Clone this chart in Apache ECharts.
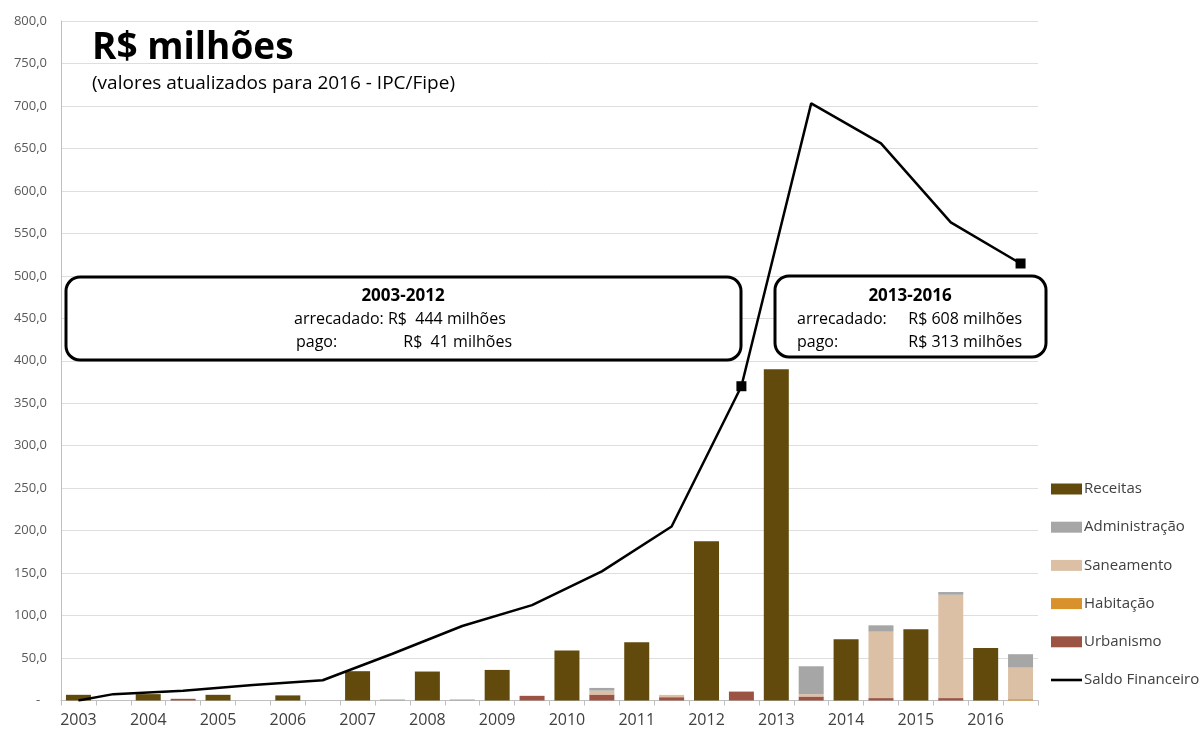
<!DOCTYPE html>
<html>
<head>
<meta charset="utf-8">
<script src="https://cdn.jsdelivr.net/npm/echarts@6/dist/echarts.min.js"></script>
<style>
  html, body { margin: 0; padding: 0; background: #fff; }
  #chart { width: 1203px; height: 734px; }
</style>
</head>
<body>
<div id="chart"></div>
<script>
// valores em R$ milhões
const years = ['2003', '2004', '2005', '2006', '2007', '2008', '2009', '2010', '2011', '2012', '2013', '2014', '2015', '2016'];
const receitas = [6.7, 7.5, 6.7, 6.0, 34.5, 34.1, 36.0, 59.0, 68.7, 187.5, 390.0, 72.0, 83.8, 61.7];
const administracao = [0, 0, 0, 0, 1.2, 1.2, 0, 3.2, 0, 0, 32.8, 7.5, 3.2, 15.8];
const saneamento = [0, 0, 0, 0, 0, 0, 0, 4.6, 2.7, 0, 2.8, 78.2, 121.7, 37.1];
const habitacao = [0, 0, 0, 0, 0, 0, 0, 0, 0, 0, 0, 0, 0, 1.6];
const urbanismo = [0, 2.0, 0, 0, 0, 0, 5.5, 7.0, 3.9, 10.5, 4.7, 2.8, 2.8, 0];
const saldoInicial = 0;
const saldo = [7.5, 11.5, 18.3, 23.8, 55.0, 87.7, 112.3, 152.0, 204.8, 370.0, 703.0, 656.0, 563.0, 514.5];
const markerYears = ['2012', '2016'];
const yTicks = { min: 0, max: 800, interval: 50 };

const FONT = 'Open Sans';

// cada ano tem duas posições: receitas e despesas
const categories = [];
years.forEach(y => { categories.push(y); categories.push(y + ' '); });

function receitaSlots(arr) {
  const out = [];
  arr.forEach(v => { out.push(v); out.push('-'); });
  return out;
}
function despesaSlots(arr) {
  const out = [];
  arr.forEach(v => { out.push('-'); out.push(v > 0 ? v : '-'); });
  return out;
}
function saldoSlots() {
  const out = [saldoInicial];
  years.forEach((y, i) => {
    if (i > 0) out.push('-');
    const item = { value: saldo[i] };
    if (markerYears.indexOf(y) >= 0) {
      item.symbol = 'rect';
      item.symbolSize = 10;
    }
    out.push(item);
  });
  return out;
}

const chart = echarts.init(document.getElementById('chart'));

const barBase = { type: 'bar', stack: 'total', barWidth: 25 };

function boxText(x, y, text, align, bold, size) {
  return {
    type: 'text', z: 51, x: x, y: y,
    style: {
      text: text,
      font: (bold ? 'bold ' : '') + size + 'px "Open Sans"',
      fill: '#000', align: align, verticalAlign: 'middle'
    }
  };
}

const option = {
  backgroundColor: '#fff',
  animation: false,
  textStyle: { fontFamily: FONT },
  grid: { left: 61, right: 165, top: 21, bottom: 33.5 },
  legend: {
    orient: 'vertical',
    left: 1051,
    top: 481,
    padding: 0,
    itemWidth: 31,
    itemHeight: 11,
    itemGap: 22.2,
    textStyle: { fontFamily: FONT, fontSize: 15, color: '#404040', lineHeight: 16, padding: [0, 0, 0, -3] },
    data: [
      { name: 'Receitas', icon: 'rect' },
      { name: 'Administração', icon: 'rect' },
      { name: 'Saneamento', icon: 'rect' },
      { name: 'Habitação', icon: 'rect' },
      { name: 'Urbanismo', icon: 'rect' },
      { name: 'Saldo Financeiro', icon: 'path://M0,0H31V2.6H0Z' }
    ]
  },
  xAxis: {
    type: 'category',
    data: categories,
    axisLine: { lineStyle: { color: '#bfbfbf', width: 1 } },
    axisTick: { show: true, interval: 0, length: 5, lineStyle: { color: '#bfbfbf' } },
    axisLabel: {
      interval: 0,
      margin: 12,
      fontFamily: FONT,
      fontSize: 16,
      color: '#404040',
      formatter: (v, i) => (i % 2 === 0 ? v : '')
    }
  },
  yAxis: {
    type: 'value',
    min: yTicks.min,
    max: yTicks.max,
    interval: yTicks.interval,
    axisLine: { show: true, lineStyle: { color: '#bfbfbf' } },
    axisTick: { show: false },
    splitLine: { lineStyle: { color: '#dedede' } },
    axisLabel: {
      margin: 14,
      fontFamily: FONT,
      fontSize: 13,
      color: '#595959',
      formatter: v => (v === 0 ? '-  ' : v.toFixed(1).replace('.', ','))
    }
  },
  graphic: [
    {
      type: 'text', left: 92, top: 30,
      style: { text: 'R$ milhões', font: 'bold 37px "Open Sans"', fill: '#000' }
    },
    {
      type: 'text', left: 92, top: 74,
      style: { text: '(valores atualizados para 2016 - IPC/Fipe)', font: '19px "Open Sans"', fill: '#000' }
    },
    {
      type: 'rect', z: 50,
      shape: { x: 66, y: 277, width: 675, height: 83, r: 14 },
      style: { fill: '#fff', stroke: '#000', lineWidth: 3 }
    },
    {
      type: 'rect', z: 50,
      shape: { x: 775, y: 276, width: 271, height: 81, r: 14 },
      style: { fill: '#fff', stroke: '#000', lineWidth: 3 }
    },
    boxText(403, 296, '2003-2012', 'center', true, 17),
    boxText(294, 319, 'arrecadado: R$  444 milhões', 'left', false, 16),
    boxText(296, 342, 'pago:', 'left', false, 16),
    boxText(512, 342, 'R$  41 milhões', 'right', false, 16),
    boxText(910, 296, '2013-2016', 'center', true, 17),
    boxText(797, 319, 'arrecadado:', 'left', false, 16),
    boxText(1022, 319, 'R$ 608 milhões', 'right', false, 16),
    boxText(797, 342, 'pago:', 'left', false, 16),
    boxText(1022, 342, 'R$ 313 milhões', 'right', false, 16)
  ],
  series: [
    Object.assign({}, barBase, { name: 'Receitas', data: receitaSlots(receitas), itemStyle: { color: '#614a0b' } }),
    Object.assign({}, barBase, { name: 'Urbanismo', data: despesaSlots(urbanismo), itemStyle: { color: '#9b5443' } }),
    Object.assign({}, barBase, { name: 'Habitação', data: despesaSlots(habitacao), itemStyle: { color: '#d9912b' } }),
    Object.assign({}, barBase, { name: 'Saneamento', data: despesaSlots(saneamento), itemStyle: { color: '#dcc0a5' } }),
    Object.assign({}, barBase, { name: 'Administração', data: despesaSlots(administracao), itemStyle: { color: '#a6a6a6' } }),
    {
      name: 'Saldo Financeiro',
      type: 'line',
      data: saldoSlots(),
      connectNulls: true,
      symbol: 'none',
      lineStyle: { color: '#000', width: 2.5 },
      itemStyle: { color: '#000' },
      z: 10
    }
  ]
};

chart.setOption(option);
</script>
</body>
</html>
